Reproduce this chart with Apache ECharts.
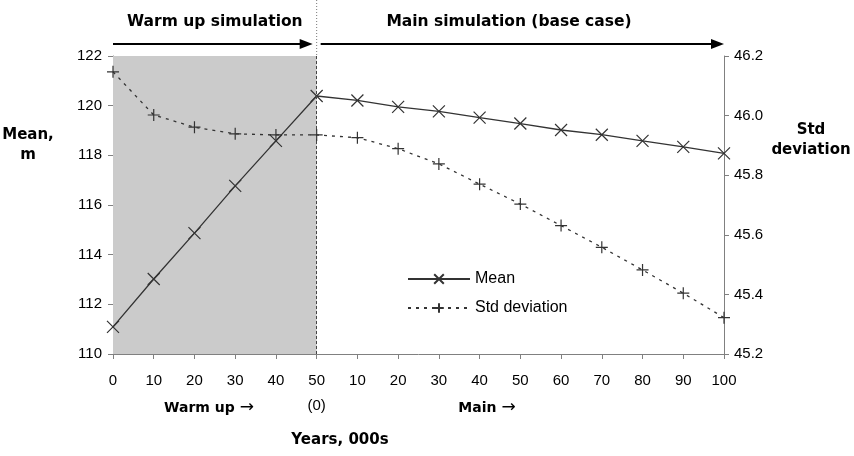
<!DOCTYPE html>
<html>
<head>
<meta charset="utf-8">
<script src="https://cdn.jsdelivr.net/npm/echarts@6/dist/echarts.min.js"></script>
<style>
html, body { margin: 0; padding: 0; background: #fff; }
#chart { width: 854px; height: 456px; }
</style>
</head>
<body>
<div id="chart"></div>
<script>
// run position in 000s of years: warm up 0-50, then main run 10-100 plotted at 60-150
var years = [0, 10, 20, 30, 40, 50, 60, 70, 80, 90, 100, 110, 120, 130, 140, 150]
var tickLabels = ["0", "10", "20", "30", "40", "50\n(0)", "10", "20", "30", "40", "50", "60", "70", "80", "90", "100"]
var meanValues = [111.09, 113.02, 114.87, 116.77, 118.58, 120.39, 120.21, 119.95, 119.77, 119.52, 119.28, 119.02, 118.83, 118.58, 118.34, 118.08]
var stdValues = [46.147, 46.002, 45.961, 45.939, 45.935, 45.935, 45.926, 45.889, 45.838, 45.770, 45.703, 45.631, 45.558, 45.482, 45.404, 45.322]
var warmUpEnd = 50

var FONT = "Liberation Sans"
var BOLD = "DejaVu Sans"
var INK = "#333333"

var myCharts = echarts.init(document.getElementById("chart"))

let option = {
	animation: false,
	grid: { left: 113, right: 130, top: 56, bottom: 102 },
	legend: {
		orient: "vertical",
		left: 402,
		top: 266,
		itemWidth: 62,
		itemHeight: 12,
		itemGap: 13,
		textStyle: { fontFamily: FONT, fontSize: 16, color: "#000" },
		data: ["Mean", "Std deviation"],
	},
	xAxis: {
		type: "value",
		min: 0,
		max: 150,
		interval: 10,
		splitLine: { show: false },
		axisLine: { lineStyle: { color: "#808080", width: 1 } },
		axisTick: { length: 5, lineStyle: { color: "#808080" } },
		axisLabel: {
			margin: 14,
			fontFamily: FONT,
			fontSize: 15,
			color: "#000",
			lineHeight: 25,
			formatter: function (v) {
				return tickLabels[years.indexOf(v)]
			},
		},
	},
	yAxis: [
		{
			type: "value",
			min: 110,
			max: 122,
			interval: 2,
			splitLine: { show: false },
			axisLine: { show: true, lineStyle: { color: "#808080" } },
			axisTick: { show: true, length: 5, lineStyle: { color: "#808080" } },
			axisLabel: { margin: 11, fontFamily: FONT, fontSize: 15, color: "#000" },
		},
		{
			type: "value",
			min: 45.2,
			max: 46.2,
			interval: 0.2,
			position: "right",
			splitLine: { show: false },
			axisLine: { show: true, lineStyle: { color: "#808080" } },
			axisTick: { show: true, length: 5, lineStyle: { color: "#808080" } },
			axisLabel: {
				margin: 10,
				fontFamily: FONT,
				fontSize: 15,
				color: "#000",
				formatter: function (v) {
					return v.toFixed(1)
				},
			},
		},
	],
	series: [
		{
			name: "Mean",
			type: "line",
			yAxisIndex: 0,
			data: years.map(function (x, i) {
				return [x, meanValues[i]]
			}),
			symbol: "path://M0,0L10,10M10,0L0,10",
			symbolSize: 12,
			showAllSymbol: true,
			itemStyle: { color: "none", borderColor: INK, borderWidth: 1.2 },
			lineStyle: { color: INK, width: 1.3 },
			markArea: {
				silent: true,
				itemStyle: { color: "#cbcbcb" },
				data: [[{ xAxis: 0 }, { xAxis: warmUpEnd }]],
			},
			markLine: {
				silent: true,
				symbol: "none",
				label: { show: false },
				lineStyle: { color: "#444", type: [3, 2], width: 1 },
				data: [{ xAxis: warmUpEnd }],
			},
			z: 3,
		},
		{
			name: "Std deviation",
			type: "line",
			yAxisIndex: 1,
			data: years.map(function (x, i) {
				return [x, stdValues[i]]
			}),
			symbol: "path://M5,0L5,10M0,5L10,5",
			symbolSize: 12,
			showAllSymbol: true,
			itemStyle: { color: "none", borderColor: INK, borderWidth: 1.2 },
			lineStyle: { color: INK, width: 1.3, type: [3, 5] },
			z: 3,
		},
	],
}
myCharts.setOption(option)

// annotation arrows and titles, placed from the axis scale
var px0 = myCharts.convertToPixel({ xAxisIndex: 0 }, 0)
var px50 = myCharts.convertToPixel({ xAxisIndex: 0 }, warmUpEnd)
var pxEnd = myCharts.convertToPixel({ xAxisIndex: 0 }, 150)
var arrowY = 44

function label(text, x, y, size, extra) {
	var style = { text: text, x: 0, y: 0, fontFamily: BOLD, fontWeight: "bold", fontSize: size, fill: "#000", align: "center", verticalAlign: "middle" }
	return { type: "text", x: x, y: y, style: Object.assign(style, extra || {}) }
}

function arrow(x1, x2) {
	return [
		{ type: "line", shape: { x1: x1, y1: arrowY, x2: x2 - 10, y2: arrowY }, style: { stroke: "#000", lineWidth: 2 } },
		{ type: "polygon", shape: { points: [[x2 - 13, arrowY - 5], [x2, arrowY], [x2 - 13, arrowY + 5]] }, style: { fill: "#000" } },
	]
}

var arrowRich = { a: { fontFamily: "DejaVu Sans", fontWeight: "normal", fontSize: 17, fill: "#000" } }

var graphics = []
	.concat(arrow(px0, px50 - 4))
	.concat(arrow(px50 + 4, pxEnd))
	.concat([
		{ type: "line", shape: { x1: px50, y1: 0, x2: px50, y2: 56 }, style: { stroke: "#777", lineWidth: 1, lineDash: [1, 2] } },
		label("Warm up simulation", (px0 + px50) / 2, 22, 15.5),
		label("Main simulation (base case)", 509, 22, 15.5),
		label("Mean,\nm", 28, 145, 15, { lineHeight: 20 }),
		label("Std\ndeviation", 811, 140, 15, { lineHeight: 20 }),
		label("Warm up {a|\u2192}", 209, 408, 14, { rich: arrowRich }),
		label("Main {a|\u2192}", 487, 408, 14, { rich: arrowRich }),
		label("Years, 000s", 340, 440, 15),
	])

myCharts.setOption({ graphic: graphics })
</script>
</body>
</html>
